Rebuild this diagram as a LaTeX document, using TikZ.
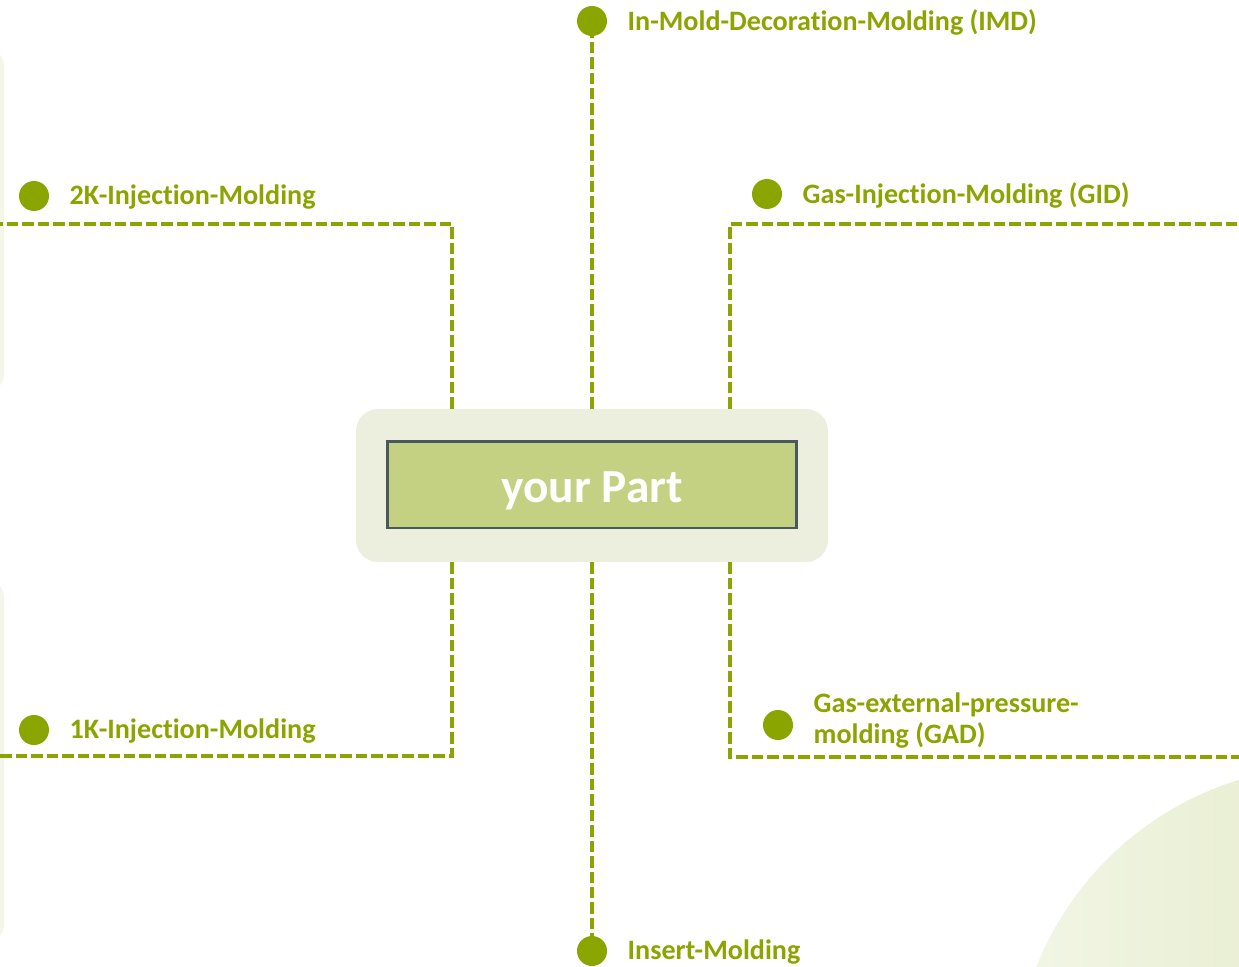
\documentclass[tikz,border=0pt]{standalone}
\usepackage{fontspec}
\setmainfont[Ligatures=NoCommon]{Carlito}
\usetikzlibrary{positioning}
\definecolor{leaf}{RGB}{139,165,0}
\definecolor{partfill}{RGB}{196,209,130}
\definecolor{partedge}{RGB}{74,87,92}
\definecolor{halo}{RGB}{236,239,222}
\definecolor{mist}{RGB}{218,228,182}
\definecolor{panel}{RGB}{244,246,234}

\begin{document}
\begin{tikzpicture}[x=0.02cm,y=-0.02cm,
	link/.style={leaf,line width=1.9pt,dash pattern=on 6.5pt off 2.3pt},
	dot/.style={circle,fill=leaf,minimum size=0.6cm,inner sep=0pt},
	tag/.style={anchor=west,inner sep=0pt,text=leaf,align=left,yshift=-0.03cm,
		font=\bfseries\fontsize{16}{18}\selectfont}]
		% page and faint backdrop
		\fill[white] (0,0) rectangle (1239,966);
		\useasboundingbox (0,0) rectangle (1239,966);
		\fill[panel,rounded corners=0.3cm] (-40,50) rectangle (4,390);
		\fill[panel,rounded corners=0.3cm] (-40,582) rectangle (4,940);
		\shade[left color=mist!35,right color=mist] (1332,1084) circle[radius=6.36cm];

		% the part in the middle
		\node[fill=halo,rounded corners=0.44cm,minimum width=9.44cm,minimum height=3.06cm] (halo) at (592,485.5) {};
		\node[draw=partedge,line width=1.7pt,fill=partfill,minimum width=8.2cm,minimum height=1.74cm,
			text=white,font=\bfseries\fontsize{27}{30}\selectfont] (part) at (592,484.5) {\raisebox{-0.05cm}[\height][0pt]{your Part}};

		% processes
		\node[dot] (imd) at (592,21) {};
		\node[tag,right=0.4cm of imd] (imdtext) {In-Mold-Decoration-Molding (IMD)};
		\node[dot] (twok) at (34,196) {};
		\node[tag,right=0.4cm of twok] (twoktext) {2K-Injection-Molding};
		\node[dot] (gid) at (767,194) {};
		\node[tag,right=0.4cm of gid] (gidtext) {Gas-Injection-Molding (GID)};
		\node[dot] (onek) at (34,730) {};
		\node[tag,right=0.4cm of onek] (onektext) {1K-Injection-Molding};
		\node[dot] (gad) at (778,725) {};
		\node[tag,right=0.4cm of gad,yshift=0.12cm] (gadtext) {Gas-external-pressure-\\molding (GAD)};
		\node[dot] (insert) at (592,951) {};
		\node[tag,right=0.4cm of insert] (inserttext) {Insert-Molding};

		% corners and free ends
		\coordinate (tl) at (452,224); \coordinate (tlend) at (0,224);
		\coordinate (bl) at (452,756); \coordinate (blend) at (0,756);
		\coordinate (tr) at (730,224); \coordinate (trend) at (1239,224);
		\coordinate (br) at (730,757); \coordinate (brend) at (1239,757);

		\draw[link] (halo.north) -- (imd.south);
		\draw[link] (halo.south) -- (insert.north);
		\draw[link] (halo.north -| tl) -- (tl) -- (tlend);
		\draw[link] (halo.south -| bl) -- (bl) -- (blend);
		\draw[link] (halo.north -| tr) -- (tr) -- (trend);
		\draw[link] (halo.south -| br) -- (br) -- (brend);
\end{tikzpicture}
\end{document}
